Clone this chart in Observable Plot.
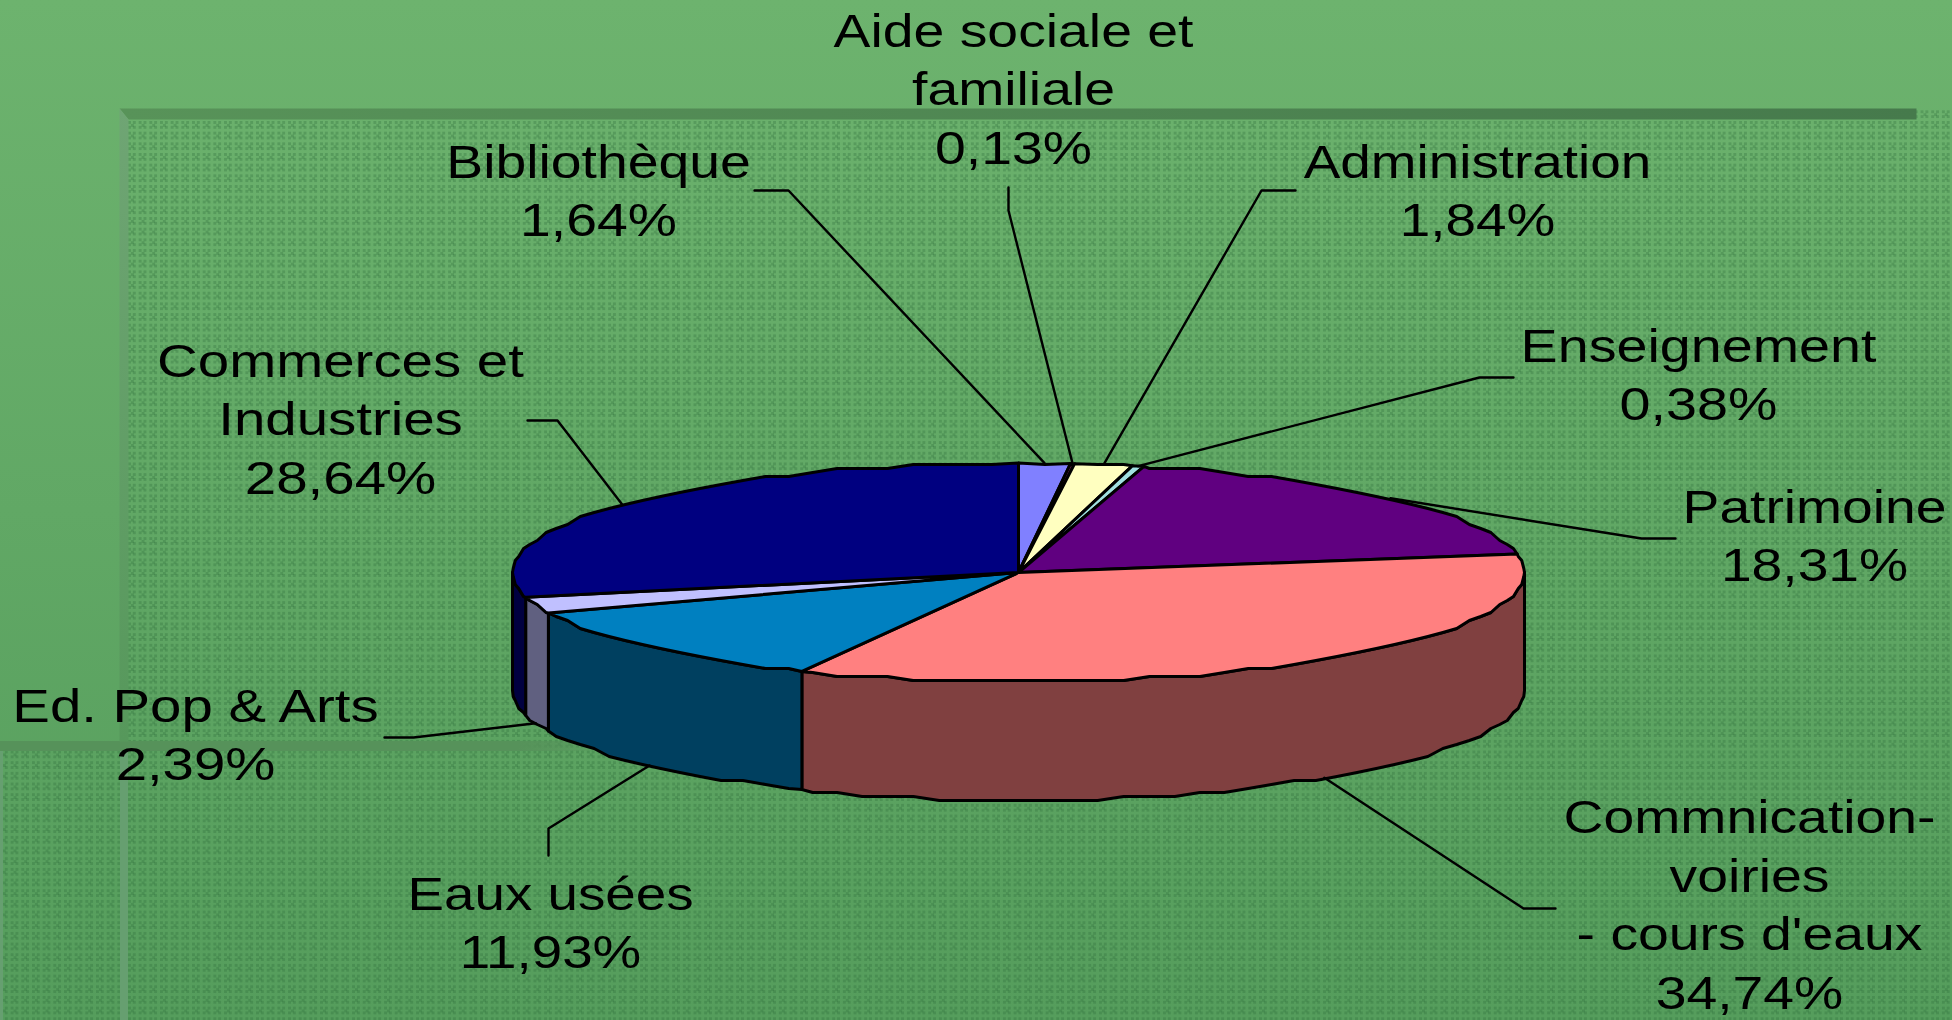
<!DOCTYPE html>
<html lang="fr">
<head>
<meta charset="utf-8">
<title>Répartition</title>
<script src="https://cdn.jsdelivr.net/npm/d3@7"></script>
<script src="https://cdn.jsdelivr.net/npm/@observablehq/plot@0.6"></script>
<style>
html,body{margin:0;padding:0;background:#609f62;overflow:hidden}
svg{display:block}
</style>
</head>
<body>
<div id="chart"></div>
<script>
// ---- chart values ----
const categories = ["Bibliothèque","Aide sociale et\nfamiliale","Administration","Enseignement","Patrimoine","Commnication-\nvoiries\n- cours d'eaux","Eaux usées","Ed. Pop & Arts","Commerces et\nIndustries"];
const shares = [1.64,0.13,1.84,0.38,18.31,34.74,11.93,2.39,28.64];
const topColors = ["#8080ff","#802060","#ffffc0","#a0e0e0","#600080","#ff8080","#0080c0","#c0c0ff","#000080"];
const wallColors = ["#404080","#401030","#808060","#507070","#300040","#804040","#004060","#606080","#000040"];

// ---- placement (page units), kept apart from the values ----
const pie = {cx:1018, cy:572, rx:506, ry:109.5, depth:118, step:3, grain:4};
const labelAt = [[598,188],[1013,86],[1477,188],[1698,372],[1814,533],[1749,902],[550,920],[195,732],[340,416]];
const leaderTail = [[[754,190],[788,190]],[[1008,187],[1008,210]],[[1295,190],[1261,190]],[[1513,377],[1479,377]],[[1675,538],[1641,538]],[[1555,908],[1523,908]],[[548,855],[548,828]],[[384,737],[413,737]],[[527,420],[557,420]]];
const texturePanels = [[128,119,1952,1020],[1916,110,1952,119],[3,751,120,1020]];
const lightStrips = [[120,751,128,1020],[0,751,3,1020]];
const fontSize = 46, lineGap = 58.5;
const textStretch = [1.203,1.203,1.193,1.21,1.2,1.203,1.19,1.225,1.227];

// ---- geometry derived from the values ----
const rad = d => d * Math.PI / 180;
const rim = (deg, drop = 0) => [pie.cx + pie.rx * Math.sin(rad(deg)), pie.cy - pie.ry * Math.cos(rad(deg)) + drop];
// the rim is snapped to a coarse grid: the original outline is a low-resolution, stepped one
const stepped = ([x, y]) => [x, Math.round(y / pie.grain) * pie.grain];
const total = d3.sum(shares);
let run = 0;
const slices = shares.map((v, i) => {
  const a0 = run / total * 360; run += v;
  const a1 = run / total * 360;
  return {i, a0, a1, mid:(a0 + a1) / 2};
});
function arc(a0, a1, drop = 0) {
  const out = [];
  const first = Math.ceil(a0 / pie.step) * pie.step;
  out.push(rim(a0, drop));
  for (let a = first; a < a1; a += pie.step) if (a > a0) out.push(stepped(rim(a, drop)));
  out.push(rim(a1, drop));
  return out;
}
const wallPts = [], topPts = [];
for (const s of slices) {
  const w0 = Math.max(s.a0, 90), w1 = Math.min(s.a1, 270);
  if (w1 > w0) {
    const up = arc(w0, w1), down = arc(w0, w1, pie.depth).reverse();
    [...up, ...down, up[0]].forEach(p => wallPts.push({k:s.i, x:p[0], y:p[1], c:wallColors[s.i]}));
  }
  [[pie.cx, pie.cy], ...arc(s.a0, s.a1), [pie.cx, pie.cy]].forEach(p => topPts.push({k:s.i, x:p[0], y:p[1], c:topColors[s.i]}));
}
const leaderPts = [];
slices.forEach(s => {
  const onWall = s.mid > 90 && s.mid < 270;
  const end = rim(s.mid, onWall ? pie.depth : 0);
  [...leaderTail[s.i], end].forEach(p => leaderPts.push({k:s.i, x:p[0], y:p[1]}));
});
const labels = slices.map(s => ({
  x:labelAt[s.i][0], y:labelAt[s.i][1],
  t:categories[s.i] + "\n" + d3.format(".2f")(shares[s.i]).replace(".", ",") + "%"
}));
const rectOf = ([x1,y1,x2,y2]) => ({x1,y1,x2,y2});
const topBevel = [[119,108],[1916,108],[1916,119],[128,119],[119,108]].map(([x,y]) => ({x,y}));
const leftBevel = [[119,108],[128,119],[128,741],[119,741],[119,108]].map(([x,y]) => ({x,y}));

const defs = () => d3.create("svg:defs").html(`
  <linearGradient id="bg" gradientUnits="userSpaceOnUse" x1="0" y1="0" x2="0" y2="1020">
    <stop offset="0" stop-color="#6db36e"/><stop offset="1" stop-color="#559d5c"/>
  </linearGradient>
  <linearGradient id="bevelTop" gradientUnits="userSpaceOnUse" x1="120" y1="0" x2="1916" y2="0">
    <stop offset="0" stop-color="#589359"/><stop offset="1" stop-color="#467a4c"/>
  </linearGradient>
  <linearGradient id="bevelLeft" gradientUnits="userSpaceOnUse" x1="0" y1="108" x2="0" y2="741">
    <stop offset="0" stop-color="#6fa574"/><stop offset="1" stop-color="#56985b"/>
  </linearGradient>
  <linearGradient id="bevelLow" gradientUnits="userSpaceOnUse" x1="0" y1="0" x2="610" y2="0">
    <stop offset="0" stop-color="#56925a"/><stop offset=".85" stop-color="#56925a"/><stop offset="1" stop-color="#56925a" stop-opacity="0"/>
  </linearGradient>
  <pattern id="weave" patternUnits="userSpaceOnUse" x="128" y="121" width="10.67" height="10.67">
    <g fill="#2c6a3a" fill-opacity=".3" shape-rendering="crispEdges">
      <rect x="0" y="0" width="2.67" height="2.67"/><rect x="5.33" y="0" width="2.67" height="2.67"/>
      <rect x="2.67" y="2.67" width="2.67" height="2.67"/>
      <rect x="0" y="5.33" width="2.67" height="2.67"/><rect x="5.33" y="5.33" width="2.67" height="2.67"/>
    </g>
  </pattern>`).node();

const chart = Plot.plot({
  width:1952, height:1020, margin:0,
  x:{domain:[0,1952], axis:null},
  y:{domain:[1020,0], axis:null},
  color:{type:"identity"},
  style:{background:"transparent"},
  marks:[
    defs,
    Plot.rect([[0,0,1952,1020]].map(rectOf), {x1:"x1",x2:"x2",y1:"y1",y2:"y2",fill:"url(#bg)"}),
    Plot.rect(texturePanels.map(rectOf), {x1:"x1",x2:"x2",y1:"y1",y2:"y2",fill:"url(#weave)"}),
    Plot.rect(lightStrips.map(rectOf), {x1:"x1",x2:"x2",y1:"y1",y2:"y2",fill:"#669f70"}),
    Plot.rect([[0,741,610,751]].map(rectOf), {x1:"x1",x2:"x2",y1:"y1",y2:"y2",fill:"url(#bevelLow)"}),
    Plot.line(topBevel, {x:"x",y:"y",fill:"url(#bevelTop)",stroke:"none"}),
    Plot.line(leftBevel, {x:"x",y:"y",fill:"url(#bevelLeft)",stroke:"none"}),
    Plot.line(wallPts, {x:"x",y:"y",z:"k",fill:"c",stroke:"#000",strokeWidth:3,strokeLinejoin:"round"}),
    Plot.line(topPts, {x:"x",y:"y",z:"k",fill:"c",stroke:"#000",strokeWidth:3,strokeLinejoin:"round"}),
    Plot.line(leaderPts, {x:"x",y:"y",z:"k",stroke:"#000",strokeWidth:2.4}),
    Plot.text(labels, {x:"x",y:"y",text:"t",fill:"#000",textAnchor:"middle",lineAnchor:"middle",
      fontFamily:"Liberation Sans",fontSize,lineHeight:lineGap/fontSize})
  ]
});
// the original's type is drawn stretched sideways
chart.querySelectorAll("text").forEach((t, i) => {
  if (t.getAttribute("transform")) t.setAttribute("transform", `${t.getAttribute("transform")} scale(${textStretch[i]},1)`);
});
document.getElementById("chart").append(chart);
</script>
</body>
</html>
